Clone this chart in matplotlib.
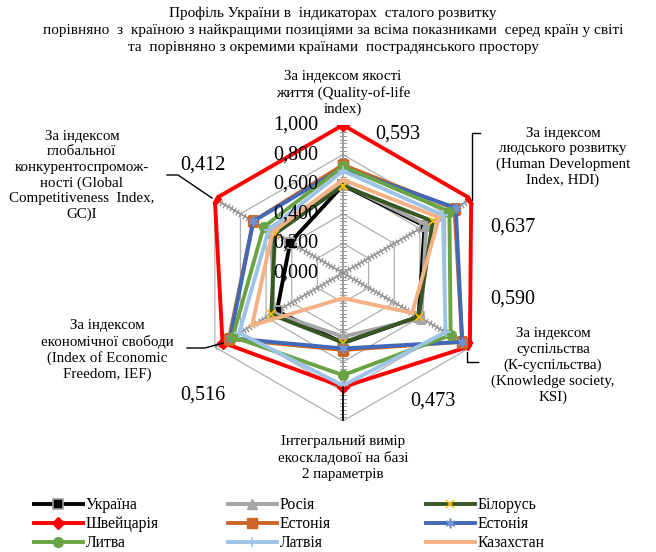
import numpy as np
import matplotlib
matplotlib.use('Agg')
import matplotlib.pyplot as plt

plt.rcParams['font.family'] = ['Liberation Serif', 'DejaVu Serif']

# categories (clockwise from top)
categories = [
    'За індексом якості\nжиття (Quality-of-life\nindex)',
    'За індексом\nлюдського розвитку\n(Human Development\nIndex, HDI)',
    'За індексом\nсуспільства\n(К-суспільства)\n(Knowledge society,\nKSI)',
    'Інтегральний вимір\nекоскладової на базі\n2 параметрів',
    'За індексом\nекономічної свободи\n(Index of Economic\nFreedom, IEF)',
    'За індексом\nглобальної\nконкурентоспромож-\nності (Global\nCompetitiveness  Index,\nGC)I',
]

ukraine = [0.593, 0.637, 0.590, 0.473, 0.516, 0.412]
russia = [0.60, 0.65, 0.61, 0.43, 0.54, 0.56]
belarus = [0.59, 0.70, 0.59, 0.47, 0.56, 0.53]
switzerland = [1.00, 1.00, 0.99, 0.77, 0.94, 1.00]
estonia_1 = [0.73, 0.87, 0.93, 0.52, 0.89, 0.70]
estonia_2 = [0.71, 0.88, 0.93, 0.51, 0.88, 0.70]
lithuania = [0.72, 0.83, 0.84, 0.69, 0.86, 0.62]
latvia = [0.69, 0.78, 0.80, 0.76, 0.81, 0.58]
kazakhstan = [0.63, 0.75, 0.54, 0.17, 0.71, 0.55]

series_names = ['Україна', 'Росія', 'Білорусь', 'Швейцарія', 'Естонія',
                'Естонія', 'Литва', 'Латвія', 'Казахстан']
series_values = [ukraine, russia, belarus, switzerland, estonia_1,
                 estonia_2, lithuania, latvia, kazakhstan]

tick_values = [0.0, 0.2, 0.4, 0.6, 0.8, 1.0]
tick_labels = ['0,000', '0,200', '0,400', '0,600', '0,800', '1,000']
label_values = ['0,593', '0,637', '0,590', '0,473', '0,516', '0,412']

styles = [
    dict(color='#000000', marker='s', ms=7.5, mfc='#000000', mec='#a0a0a0', mew=1.2),
    dict(color='#a5a5a5', marker='^', ms=6.5, mfc='#a5a5a5', mec='#a5a5a5'),
    dict(color='#375623', marker='x', ms=6, mfc='#ffc000', mec='#ffc000', mew=1.2),
    dict(color='#ff0000', marker='D', ms=6, mfc='#ff0000', mec='#ff0000'),
    dict(color='#cc6628', marker='s', ms=6.5, mfc='#cc6628', mec='#cc6628'),
    dict(color='#4169b8', marker=(6, 2, 0), ms=7, mfc='#4169b8', mec='#6f93d6', mew=1.2),
    dict(color='#6aa344', marker='o', ms=7, mfc='#6aa344', mec='#6aa344'),
    dict(color='#9dc3e6', marker='+', ms=7, mfc='#9dc3e6', mec='#9dc3e6', mew=1.2),
    dict(color='#f4b183', marker=None),
]

W, H = 656, 552
fig = plt.figure(figsize=(W / 100, H / 100), dpi=100)


def px(x, y):
    return x / W, 1 - y / H


cx, cy, R = 343, 273, 148
ax = fig.add_axes([(cx - R) / W, 1 - (cy + R) / H, 2 * R / W, 2 * R / H],
                  projection='polar')
ax.set_theta_offset(np.pi / 2)
ax.set_theta_direction(-1)
ax.set_ylim(0, 1)
ax.grid(False)
ax.spines['polar'].set_visible(False)
ax.set_xticks([])
ax.set_yticks([])
ax.patch.set_alpha(0)

n = len(categories)
angles = np.linspace(0, 2 * np.pi, n, endpoint=False)
closed = np.concatenate([angles, angles[:1]])

# hexagonal grid
for r in tick_values[1:]:
    ax.plot(closed, [r] * (n + 1), color='#b0b0b0', lw=0.9, zorder=1)
# spokes with minor tick marks
minor = np.arange(0.025, 1.0001, 0.025)
for a in angles:
    ax.plot([a, a], [0, 1], color='#8c8c8c', lw=1.2, zorder=1)
    rot = 90 - np.degrees(a)
    ax.plot([a] * len(minor), minor, ls='none', marker=(2, 2, rot), ms=4.5,
            mec='#9a9a9a', mew=0.7, zorder=1)

lines = []
for name, vals, st in zip(series_names, series_values, styles):
    v = list(vals) + [vals[0]]
    ln, = ax.plot(closed, v, lw=2.8, label=name, zorder=3, solid_joinstyle='miter', **st)
    lines.append(ln)

# black leader on bottom spoke
ax.plot([angles[3], angles[3]], [switzerland[3], 1.0], color='black', lw=1.2, zorder=4)

# axis tick labels on top spoke
for v, t in zip(tick_values, tick_labels):
    ax.annotate(t, (0, v), xytext=(-25, 0), textcoords='offset pixels',
                ha='right', va='center', fontsize=14.5, zorder=5,
                annotation_clip=False)

# title
fig.text(*px(333, 13), 'Профіль України в  індикаторах  сталого розвитку',
         ha='center', va='center', fontsize=11)
fig.text(*px(333, 30.5), 'порівняно  з  країною з найкращими позиціями за всіма показниками  серед країн у світі',
         ha='center', va='center', fontsize=11)
fig.text(*px(333, 47.5), 'та  порівняно з окремими країнами  пострадянського простору',
         ha='center', va='center', fontsize=11)

# category labels
cat_pos = [(343, 93), (563, 157), (553, 365.5), (343, 458), (107, 350), (82, 175.5)]
for (x, y), txt in zip(cat_pos, categories):
    fig.text(*px(x, y), txt, ha='center', va='center', fontsize=10.8,
             linespacing=1.25)

# data labels for Ukraine
lab_pos = [(398, 134), (512.7, 227.3), (512.7, 299.3), (433, 400.7), (203, 395), (203, 165)]
for (x, y), txt in zip(lab_pos, label_values):
    fig.text(*px(x, y), txt, ha='center', va='center', fontsize=14.5)

# leader lines
leaders = [
    [(480, 133), (471.5, 133), (471.5, 200)],
    [(478, 361.7), (466.7, 361.7), (466.7, 352)],
    [(167, 175), (178, 175), (212, 198)],
    [(187, 348), (205, 348), (223, 343)],
]
for pts in leaders:
    xs = [p[0] / W for p in pts]
    ys = [1 - p[1] / H for p in pts]
    fig.add_artist(plt.Line2D(xs, ys, color='black', lw=1.0))

# legend: three columns laid out like Excel
col_x = [34, 228, 426]
for c in range(3):
    idx = [c, c + 3, c + 6]
    fig.legend([lines[i] for i in idx], [series_names[i] for i in idx],
               loc='upper left', bbox_to_anchor=px(col_x[c], 497),
               frameon=False, fontsize=11.3, handlelength=3.1, handletextpad=0.2,
               labelspacing=0.2, borderpad=0, borderaxespad=0)

fig.savefig('out.png', dpi=100)
